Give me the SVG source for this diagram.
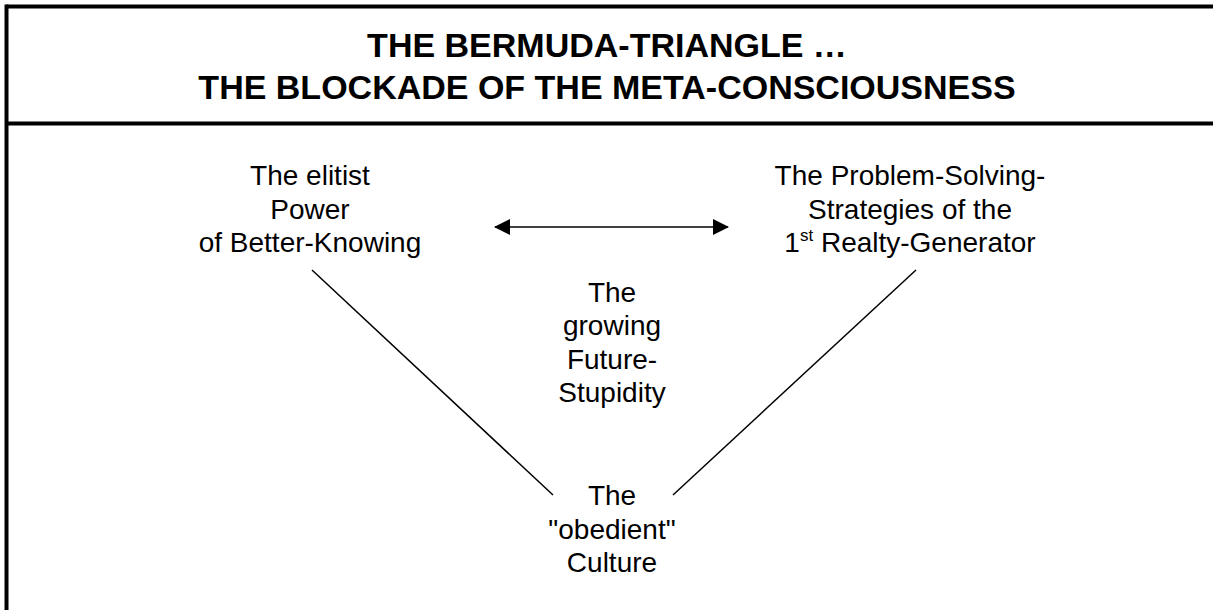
<svg xmlns="http://www.w3.org/2000/svg" width="1213" height="610" viewBox="0 0 1213 610">
<style>
.frame{stroke:#000;stroke-width:4;fill:none}
.t{font-family:"Liberation Sans",Arial,sans-serif;font-size:28px;fill:#000;text-anchor:middle}
.title{font-family:"Liberation Sans",Arial,sans-serif;font-size:34px;font-weight:bold;fill:#000;text-anchor:middle}
.ln{stroke:#000;stroke-width:1.5;fill:none}
</style>
<defs>
<marker id="ah" viewBox="0 0 16 16" refX="15" refY="8" markerWidth="16" markerHeight="16" markerUnits="userSpaceOnUse" orient="auto-start-reverse">
<path d="M0,0 L16,8 L0,16 z" fill="#000"/>
</marker>
</defs>
<rect width="1213" height="610" fill="#fff"/>
<g id="frame">
<line class="frame" x1="6.5" y1="6.5" x2="1213" y2="6.5"/>
<line class="frame" x1="6.5" y1="123.5" x2="1213" y2="123.5"/>
<line class="frame" x1="6.5" y1="4.5" x2="6.5" y2="610"/>
</g>
<g id="title">
<text class="title" x="607" y="57">THE BERMUDA-TRIANGLE …</text>
<text class="title" x="607" y="99">THE BLOCKADE OF THE META-CONSCIOUSNESS</text>
</g>
<g id="node-elitist">
<text class="t" x="310" y="185">The elitist</text>
<text class="t" x="310" y="219">Power</text>
<text class="t" x="310" y="252">of Better-Knowing</text>
</g>
<g id="node-strategies">
<text class="t" x="910" y="185">The Problem-Solving-</text>
<text class="t" x="910" y="219">Strategies of the</text>
<text class="t" x="910" y="252">1<tspan font-size="17" dy="-11">st</tspan><tspan dy="11"> Realty-Generator</tspan></text>
</g>
<g id="node-stupidity">
<text class="t" x="612" y="302">The</text>
<text class="t" x="612" y="335">growing</text>
<text class="t" x="612" y="369">Future-</text>
<text class="t" x="612" y="402">Stupidity</text>
</g>
<g id="node-culture">
<text class="t" x="612" y="505">The</text>
<text class="t" x="612" y="539">"obedient"</text>
<text class="t" x="612" y="572">Culture</text>
</g>
<g id="connectors">
<line class="ln" x1="495" y1="227" x2="728" y2="227" stroke-width="3" marker-start="url(#ah)" marker-end="url(#ah)"/>
<line class="ln" x1="312" y1="270" x2="553" y2="495"/>
<line class="ln" x1="916" y1="270" x2="673" y2="495"/>
</g>
</svg>
